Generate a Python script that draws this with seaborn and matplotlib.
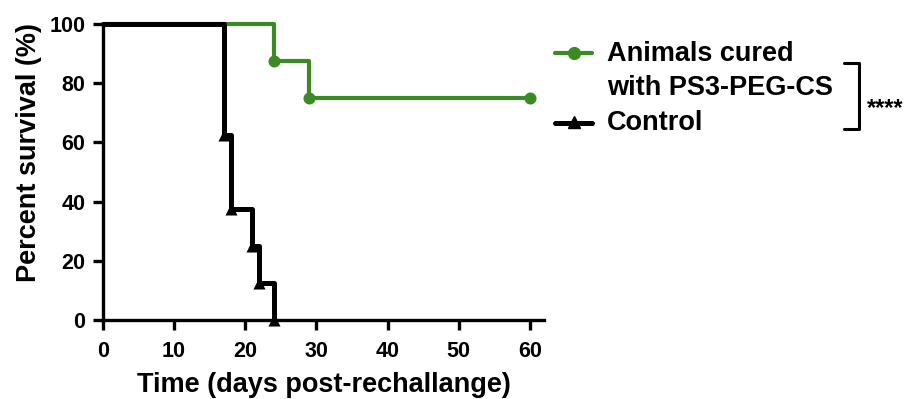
import matplotlib
matplotlib.use("Agg")
import matplotlib.pyplot as plt
import seaborn as sns
import pandas as pd
from matplotlib.lines import Line2D

sns.set_theme(style="ticks")
plt.rcParams["font.family"] = ["Liberation Sans", "DejaVu Sans"]
plt.rcParams["font.weight"] = "bold"
plt.rcParams["text.color"] = "black"
plt.rcParams["axes.labelcolor"] = "black"
plt.rcParams["xtick.color"] = "black"
plt.rcParams["ytick.color"] = "black"

# Kaplan-Meier step curves (day, percent survival)
cured_days = [0, 24, 29, 60]
cured_surv = [100, 87.5, 75, 75]
control_days = [0, 17, 18, 21, 22, 24]
control_surv = [100, 62.5, 37.5, 25, 12.5, 0]

# Event/censor markers
cured_mark_days = [24, 29, 60]
cured_mark_surv = [87.5, 75, 75]
control_mark_days = [17, 18, 21, 22, 24]
control_mark_surv = [62.5, 37.5, 25, 12.5, 0]

group_labels = ["Animals cured\nwith PS3-PEG-CS", "Control"]
green = "#3c8a25"
black = "#000000"

curves = pd.DataFrame({
    "day": cured_days + control_days,
    "surv": cured_surv + control_surv,
    "group": [group_labels[0]] * len(cured_days) + [group_labels[1]] * len(control_days),
})
marks = pd.DataFrame({
    "day": cured_mark_days + control_mark_days,
    "surv": cured_mark_surv + control_mark_surv,
    "group": [group_labels[0]] * len(cured_mark_days) + [group_labels[1]] * len(control_mark_days),
})

fig = plt.figure(figsize=(9.1, 3.99), dpi=100)
ax = fig.add_axes([0.113, 0.198, 0.485, 0.742])

palette = {group_labels[0]: green, group_labels[1]: black}
lw = {group_labels[0]: 3.0, group_labels[1]: 3.6}
for g in group_labels:
    sub = curves[curves["group"] == g]
    sns.lineplot(data=sub, x="day", y="surv", ax=ax, color=palette[g],
                 drawstyle="steps-post", linewidth=lw[g], legend=False,
                 estimator=None, sort=False, clip_on=False, zorder=3 if g == "Control" else 2)

m_cured = marks[marks["group"] == group_labels[0]]
m_ctrl = marks[marks["group"] == group_labels[1]]
sns.scatterplot(data=m_cured, x="day", y="surv", ax=ax, color=green, marker="o",
                s=75, edgecolor=green, linewidth=0, legend=False, clip_on=False, zorder=4)
sns.scatterplot(data=m_ctrl, x="day", y="surv", ax=ax, color=black, marker="^",
                s=75, edgecolor=black, linewidth=0, legend=False, clip_on=False, zorder=5)

ax.set_xlim(0, 62)
ax.set_ylim(0, 100)
ax.set_xticks([0, 10, 20, 30, 40, 50, 60])
ax.set_yticks([0, 20, 40, 60, 80, 100])
sns.despine(ax=ax)
for s in ["left", "bottom"]:
    ax.spines[s].set_linewidth(2.4)
    ax.spines[s].set_color("black")
ax.tick_params(axis="both", direction="out", length=7.5, width=2.4, colors="black",
               labelcolor="black", labelsize=15.5)
ax.tick_params(axis="x", pad=7.5)
ax.tick_params(axis="y", pad=5)
for t in ax.get_xticklabels() + ax.get_yticklabels():
    t.set_fontweight("bold")
ax.set_xlabel("Time (days post-rechallange)", fontsize=19.5, fontweight="bold",
              labelpad=7, color="black")
ax.set_ylabel("Percent survival (%)", fontsize=19.5, fontweight="bold", color="black")
ax.yaxis.set_label_coords(-0.137, 0.565)

# Legend drawn in figure coordinates
W, H = 910, 399
def fx(px):
    return px / W
def fy(py):
    return 1 - py / H

fig.add_artist(Line2D([fx(555), fx(592)], [fy(53), fy(53)], color=green, lw=3.0,
                      transform=fig.transFigure))
fig.add_artist(Line2D([fx(573.5)], [fy(53)], color=green, marker="o", markersize=8.5,
                      linestyle="none", transform=fig.transFigure))
fig.add_artist(Line2D([fx(555), fx(592)], [fy(123), fy(123)], color=black, lw=3.6,
                      transform=fig.transFigure))
fig.add_artist(Line2D([fx(573.5)], [fy(122)], color=black, marker="^", markersize=8.5,
                      linestyle="none", transform=fig.transFigure))
fig.text(fx(607), fy(54), "Animals cured", fontsize=19.5, fontweight="bold", va="center", ha="left")
fig.text(fx(607), fy(88), "with PS3-PEG-CS", fontsize=19.5, fontweight="bold", va="center", ha="left")
fig.text(fx(607), fy(123), "Control", fontsize=19.5, fontweight="bold", va="center", ha="left")

# Significance bracket
fig.add_artist(Line2D([fx(844), fx(859), fx(859), fx(844)],
                      [fy(63), fy(63), fy(129), fy(129)], color=black, lw=2.2,
                      transform=fig.transFigure))
fig.text(fx(867), fy(109), "****", fontsize=17, fontweight="bold", va="center", ha="left")

fig.savefig("out.png", dpi=100)
